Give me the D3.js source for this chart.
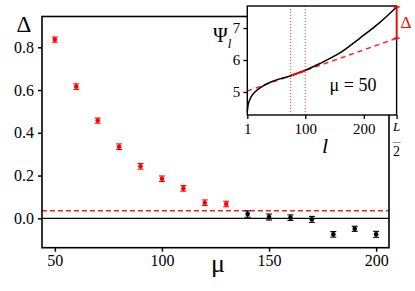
<!DOCTYPE html>
<html><head><meta charset="utf-8">
<script src="https://cdn.jsdelivr.net/npm/d3@7"></script>
<style>
html,body{margin:0;padding:0;background:#fff;}
svg{display:block;}
</style></head>
<body>
<svg id="c" width="415" height="291"></svg>
<script>
// ---- data ----
const mu = [50,60,70,80,90,100,110,120,130,140,150,160,170,180,190,200];
const delta = [0.836,0.616,0.457,0.335,0.243,0.185,0.140,0.073,0.067,0.020,0.006,0.003,-0.005,-0.075,-0.049,-0.075];
const deltaErr = [0.012,0.013,0.012,0.013,0.013,0.013,0.013,0.013,0.013,0.015,0.014,0.013,0.014,0.013,0.012,0.014];
const threshold = 0.035;
const xTicks = [50,100,150,200];
const yTicks = [0.0,0.2,0.4,0.6,0.8];
// inset
const lVals = [1,2,4,8,14,28,45,74,100,125,159,193,227,256];
const psiVals = [4.38,4.55,4.70,4.86,5.00,5.19,5.34,5.50,5.68,5.89,6.22,6.68,7.17,7.66];
const fitL = [1,256];
const fitPsi = [5.03,6.68];
const fitRange = [75,100];
const insetXTicks = [1,100,200];
const insetYTicks = [5,6,7];

const FF = "'Liberation Serif'";
const svg = d3.select("#c");
const T = sel => sel.style("font-family",FF);
// ---- main plot ----
const x = d3.scaleLinear().domain([44,206]).range([42,389]);
const y = d3.scaleLinear().domain([-0.1375,0.944]).range([247.7,16.5]);

function styleAxis(g, fs, sw){
  g.select(".domain").remove();
  g.selectAll("line").attr("stroke","#000").attr("stroke-width",sw);
  g.selectAll("text").style("font-family",FF).attr("font-size",fs).attr("fill","#000");
}
const gx = svg.append("g").attr("transform","translate(0,247.7)")
  .call(d3.axisBottom(x).tickValues(xTicks).tickSize(4).tickPadding(3).tickFormat(d3.format("d")));
styleAxis(gx,16,1.5);
const gy = svg.append("g").attr("transform","translate(42,0)")
  .call(d3.axisLeft(y).tickValues(yTicks).tickSize(4).tickPadding(4).tickFormat(d3.format(".1f")));
styleAxis(gy,16,1.5);

svg.append("line").attr("x1",x(44)).attr("x2",x(206)).attr("y1",y(0)).attr("y2",y(0))
  .attr("stroke","#000").attr("stroke-width",1.2);
svg.append("line").attr("x1",x(44)).attr("x2",x(206)).attr("y1",y(threshold)).attr("y2",y(threshold))
  .attr("stroke","#f22").attr("stroke-width",1.5).attr("stroke-dasharray","5,3");

svg.append("rect").attr("x",x(44)).attr("y",y(0.944)).attr("width",x(206)-x(44)).attr("height",y(-0.1375)-y(0.944))
  .attr("fill","none").attr("stroke","#000").attr("stroke-width",1.6);

const pts = mu.map((m,i)=>({m, d:delta[i], e:deltaErr[i], c: m<=130 ? "#f00" : "#000"}));
const pg = svg.append("g");
pts.forEach(p=>{
  const g = pg.append("g").attr("stroke",p.c).attr("stroke-width",1.1);
  g.append("line").attr("x1",x(p.m)).attr("x2",x(p.m)).attr("y1",y(p.d-p.e)).attr("y2",y(p.d+p.e));
  g.append("line").attr("x1",x(p.m)-3).attr("x2",x(p.m)+3).attr("y1",y(p.d-p.e)).attr("y2",y(p.d-p.e));
  g.append("line").attr("x1",x(p.m)-3).attr("x2",x(p.m)+3).attr("y1",y(p.d+p.e)).attr("y2",y(p.d+p.e));
  pg.append("circle").attr("cx",x(p.m)).attr("cy",y(p.d)).attr("r",2.3).attr("fill",p.c);
});

T(svg.append("text")).attr("x",24).attr("y",32).attr("text-anchor","middle").attr("font-size",23).text("Δ");
T(svg.append("text")).attr("x",218).attr("y",272).attr("text-anchor","middle").attr("font-size",26).text("μ");

// ---- inset ----
const ix = d3.scaleLinear().domain([1,256]).range([247.3,396.6]);
const iy = d3.scaleLinear().domain([4.28,7.69]).range([115,6]);

svg.append("rect").attr("x",ix(1)).attr("y",iy(7.69)).attr("width",ix(256)-ix(1)).attr("height",iy(4.28)-iy(7.69))
  .attr("fill","#fff");

const gix = svg.append("g").attr("transform","translate(0,115)")
  .call(d3.axisBottom(ix).tickValues(insetXTicks.concat([256])).tickSize(4).tickPadding(4)
        .tickFormat(d=> d===256 ? "" : d3.format("d")(d)));
styleAxis(gix,15,1.3);
const giy = svg.append("g").attr("transform","translate(247.3,0)")
  .call(d3.axisLeft(iy).tickValues(insetYTicks).tickSize(4).tickPadding(3).tickFormat(d3.format("d")));
styleAxis(giy,15,1.3);

fitRange.forEach(v=>{
  svg.append("line").attr("x1",ix(v)).attr("x2",ix(v)).attr("y1",iy(7.69)).attr("y2",iy(4.28))
    .attr("stroke","#f33").attr("stroke-width",1).attr("stroke-dasharray","1,2");
});

const fitLine = d3.line().x(d=>ix(d[0])).y(d=>iy(d[1]));
svg.append("path").attr("d",fitLine(fitL.map((l,i)=>[l,fitPsi[i]])))
  .attr("fill","none").attr("stroke","#f22").attr("stroke-width",1.5).attr("stroke-dasharray","5,4");
const curve = d3.line().x(d=>ix(d[0])).y(d=>iy(d[1])).curve(d3.curveMonotoneX);
svg.append("path").attr("d",curve(lVals.map((l,i)=>[l,psiVals[i]])))
  .attr("fill","none").attr("stroke","#000").attr("stroke-width",1.5);
const fitAt = l => fitPsi[0] + (fitPsi[1]-fitPsi[0])*(l-fitL[0])/(fitL[1]-fitL[0]);
svg.append("path").attr("d",fitLine(fitRange.map(l=>[l,fitAt(l)])))
  .attr("fill","none").attr("stroke","#f00").attr("stroke-width",1.8);

svg.append("rect").attr("x",ix(1)).attr("y",iy(7.69)).attr("width",ix(256)-ix(1)).attr("height",iy(4.28)-iy(7.69))
  .attr("fill","none").attr("stroke","#000").attr("stroke-width",1.4);

const psiTop = psiVals[psiVals.length-1], psiBot = fitPsi[1];
const dg = svg.append("g").attr("stroke","#f00").attr("stroke-width",1.6);
dg.append("line").attr("x1",ix(256)).attr("x2",ix(256)).attr("y1",iy(psiTop)).attr("y2",iy(psiBot));
dg.append("line").attr("x1",ix(256)-3).attr("x2",ix(256)+3).attr("y1",iy(psiTop)).attr("y2",iy(psiTop));
dg.append("line").attr("x1",ix(256)-3).attr("x2",ix(256)+3).attr("y1",iy(psiBot)).attr("y2",iy(psiBot));
T(svg.append("text")).attr("x",406).attr("y",28).attr("text-anchor","middle").attr("font-size",17).attr("fill","#f00").text("Δ");

T(svg.append("text")).attr("x",353).attr("y",91).attr("text-anchor","middle").attr("font-size",18).text("μ = 50");
const pl = T(svg.append("text")).attr("x",213).attr("y",42).attr("font-size",20);
pl.append("tspan").text("Ψ");
pl.append("tspan").attr("font-size",13).attr("font-style","italic").attr("dy",6).text("l");
T(svg.append("text")).attr("x",325).attr("y",153).attr("text-anchor","middle").attr("font-size",22).attr("font-style","italic").text("l");
T(svg.append("text")).attr("x",ix(256)).attr("y",130.5).attr("text-anchor","middle").attr("font-size",13).attr("font-style","italic").text("L");
svg.append("line").attr("x1",ix(256)-4).attr("x2",ix(256)+4).attr("y1",142.5).attr("y2",142.5).attr("stroke","#999").attr("stroke-width",1);
T(svg.append("text")).attr("x",ix(256)).attr("y",155.5).attr("text-anchor","middle").attr("font-size",14).text("2");
</script>
</body></html>
